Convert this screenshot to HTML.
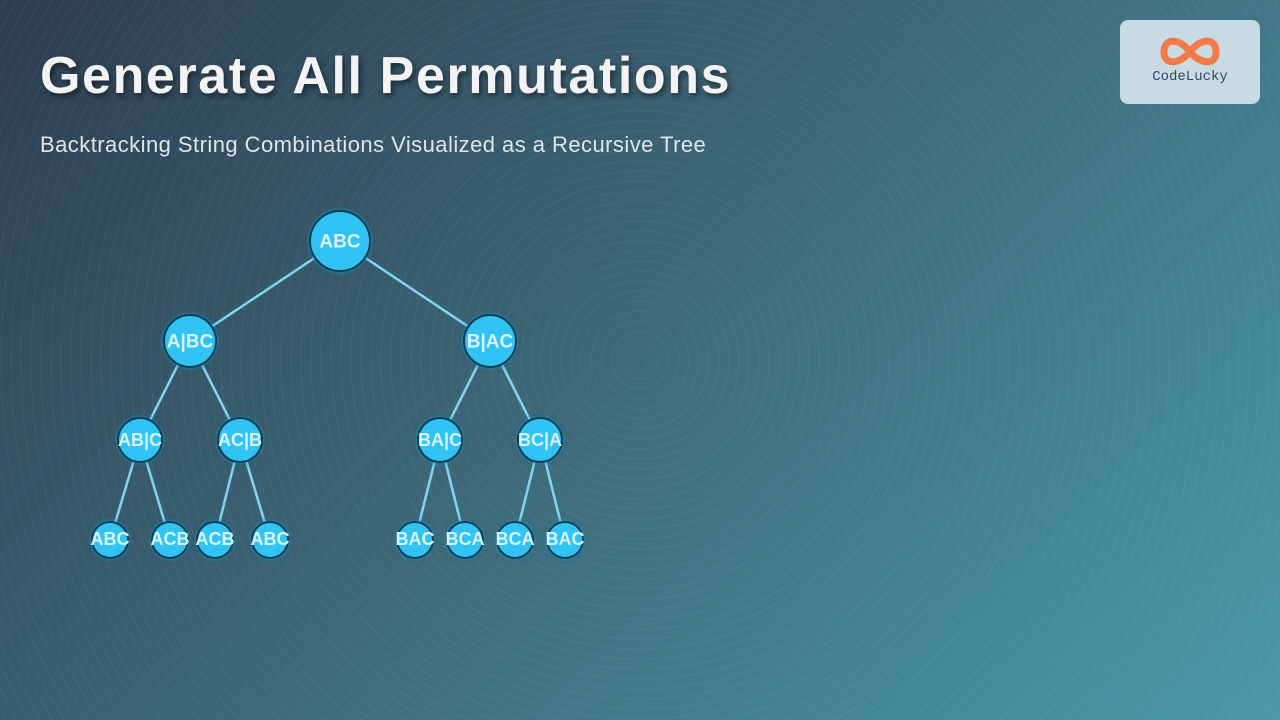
<!DOCTYPE html>
<html><head><meta charset="utf-8"><style>
body{margin:0;width:1280px;height:720px;overflow:hidden;font-family:"Liberation Sans",sans-serif;}
.bg{position:absolute;inset:0;background:linear-gradient(135deg,#2c3e50 0%,#3d6676 45%,#4a9aa6 100%);}
.rings{position:absolute;inset:0;background:repeating-radial-gradient(circle at 640px 360px,rgba(255,255,255,0) 0px,rgba(255,255,255,0) 8px,rgba(255,255,255,0.05) 9px,rgba(255,255,255,0) 10px);}
h1{position:absolute;left:40px;top:46px;margin:0;font-size:52px;font-weight:bold;color:#f3f3f3;letter-spacing:1.6px;text-shadow:2px 3px 6px rgba(0,0,0,0.5);}
.sub{position:absolute;left:40px;top:132px;font-size:22px;letter-spacing:0.45px;color:#dde6ea;}
.logo{position:absolute;left:1120px;top:20px;width:140px;height:84px;border-radius:8px;background:#c9dbe2;}
.logo span{position:absolute;left:0;right:0;top:49px;text-align:center;font-family:"Liberation Mono",monospace;font-size:14px;color:#2a4a6a;}
svg{position:absolute;left:0;top:0;}
text{font-family:"Liberation Sans",sans-serif;font-weight:bold;fill:#d8f4ff;text-anchor:middle;dominant-baseline:central;}
</style></head><body>
<div class="bg"></div><div class="rings"></div>
<h1>Generate All Permutations</h1>
<div class="sub">Backtracking String Combinations Visualized as a Recursive Tree</div>
<div class="logo">
<svg width="140" height="50" viewBox="0 0 140 50"><path d="M70 32 C60 18,44 17,44 32 C44 46,60 44,70 32 C80 18,96 17,96 32 C96 46,80 44,70 32" fill="none" stroke="#f47a4a" stroke-width="7" transform="translate(0,0)"/></svg>
<span>CodeLucky</span></div>
<svg width="1280" height="720">
<defs><filter id="g" x="-50%" y="-50%" width="200%" height="200%"><feGaussianBlur stdDeviation="3" result="b"/><feMerge><feMergeNode in="b"/><feMergeNode in="SourceGraphic"/></feMerge></filter></defs>
<g stroke="#7fd6f5" stroke-width="2.5">
<line x1="340" y1="241" x2="190" y2="341"/><line x1="340" y1="241" x2="490" y2="341"/>
<line x1="190" y1="341" x2="140" y2="440"/><line x1="190" y1="341" x2="240" y2="440"/>
<line x1="490" y1="341" x2="440" y2="440"/><line x1="490" y1="341" x2="540" y2="440"/>
<line x1="140" y1="440" x2="110" y2="540"/><line x1="140" y1="440" x2="170" y2="540"/>
<line x1="240" y1="440" x2="215" y2="540"/><line x1="240" y1="440" x2="270" y2="540"/>
<line x1="440" y1="440" x2="415" y2="540"/><line x1="440" y1="440" x2="465" y2="540"/>
<line x1="540" y1="440" x2="515" y2="540"/><line x1="540" y1="440" x2="565" y2="540"/>
</g>
<g fill="#33c3f5" stroke="#0b3d55" stroke-width="2" filter="url(#g)">
<circle cx="340" cy="241" r="30"/>
<circle cx="190" cy="341" r="26"/><circle cx="490" cy="341" r="26"/>
<circle cx="140" cy="440" r="22"/><circle cx="240" cy="440" r="22"/><circle cx="440" cy="440" r="22"/><circle cx="540" cy="440" r="22"/>
<circle cx="110" cy="540" r="18"/><circle cx="170" cy="540" r="18"/><circle cx="215" cy="540" r="18"/><circle cx="270" cy="540" r="18"/>
<circle cx="415" cy="540" r="18"/><circle cx="465" cy="540" r="18"/><circle cx="515" cy="540" r="18"/><circle cx="565" cy="540" r="18"/>
</g>
<text x="340" y="242" font-size="19">ABC</text>
<text x="190" y="342" font-size="19">A|BC</text><text x="490" y="342" font-size="19">B|AC</text>
<g font-size="18"><text x="140" y="440">AB|C</text><text x="240" y="440">AC|B</text><text x="440" y="440">BA|C</text><text x="540" y="440">BC|A</text></g>
<g font-size="18"><text x="110" y="539">ABC</text><text x="170" y="539">ACB</text><text x="215" y="539">ACB</text><text x="270" y="539">ABC</text>
<text x="415" y="539">BAC</text><text x="465" y="539">BCA</text><text x="515" y="539">BCA</text><text x="565" y="539">BAC</text></g>
</svg>
</body></html>
